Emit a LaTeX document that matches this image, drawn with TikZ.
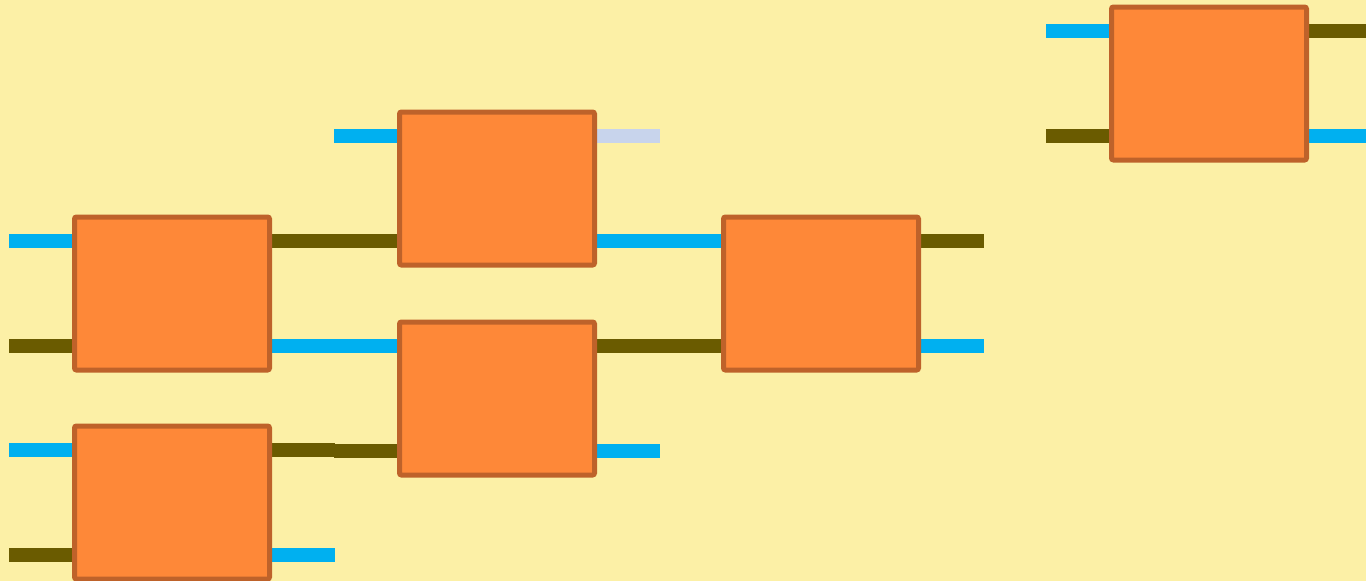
\documentclass[tikz,border=0pt]{standalone}
\usepackage{tikz}
\usetikzlibrary{calc,backgrounds}
\definecolor{paper}{RGB}{252,240,166}
\definecolor{boxfill}{RGB}{254,136,56}
\definecolor{boxedge}{RGB}{190,98,42}
\definecolor{portblue}{RGB}{0,176,240}
\definecolor{portolive}{RGB}{106,91,0}
\definecolor{portgray}{RGB}{200,212,236}
\tikzset{
  blkbox/.style ={draw=boxedge, fill=boxfill, line width=5pt, rounded corners=2pt,
                  minimum width=195pt, minimum height=153pt, inner sep=0pt, outer sep=0pt},
  port/.style   ={line width=14pt},
}
\begin{document}
\begin{tikzpicture}[x=1pt,y=-1pt]
\useasboundingbox (0,0) rectangle (1366,581);
\begin{scope}[on background layer]
  \fill[paper] (0,0) rectangle (1366,581);
\end{scope}

% blocks
\node[blkbox] (a) at (172,293.5) {};
\node[blkbox] (b) at (172,502.5) {};
\node[blkbox] (c) at (497,188.5) {};
\node[blkbox] (d) at (497,398.5) {};
\node[blkbox] (e) at (821,293.5) {};
\node[blkbox] (f) at (1209,83.5) {};

% ports: left top / left bottom / right top / right bottom
\begin{scope}[on background layer]
\foreach \b/\lt/\lb/\rt/\rb in {a/portblue/portolive/portolive/portblue,
                                b/portblue/portolive/portolive/portblue,
                                c/portblue/portolive/portgray/portblue,
                                d/portblue/portolive/portolive/portblue,
                                e/portblue/portolive/portolive/portblue,
                                f/portblue/portolive/portolive/portblue}{
  \draw[port,draw=\lt] ($(\b.west)+(0,-52.5)$) -- ++(-65.5,0);
  \draw[port,draw=\lb] ($(\b.west)+(0,52.5)$) -- ++(-65.5,0);
  \draw[port,draw=\rt] ($(\b.east)+(0,-52.5)$) -- ++(65.5,0);
  \draw[port,draw=\rb] ($(\b.east)+(0,52.5)$) -- ++(65.5,0);
}
\end{scope}
\end{tikzpicture}
\end{document}
